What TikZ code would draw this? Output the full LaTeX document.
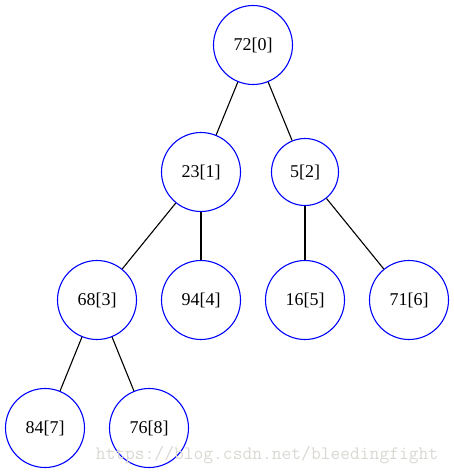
\documentclass[tikz,border=0pt]{standalone}
\usepackage{fontspec}
\setmainfont{Liberation Serif}
\definecolor{wmgray}{RGB}{218,216,210}
\begin{document}
\begin{tikzpicture}[x=1pt, y=-1pt]
\tikzset{
    % Define style for heap nodes
    knot/.style={
           circle,
           draw=blue, line width=1.1pt,
           minimum size=79pt,
           inner sep=0pt,
           font=\fontsize{18}{20}\selectfont},
    % smaller node
    smallknot/.style={knot, minimum size=67pt},
    % Define edge style
    kant/.style={
           draw=black,
           line width=1.1pt}
}
 \useasboundingbox (0,0) rectangle (454,474);
 %nodes
 \node[knot] (n0) at (253,45) {72[0]};
 \node[knot] (n1) at (201,172) {23[1]};
 \node[smallknot] (n2) at (305,172) {5[2]};
 \node[knot] (n3) at (97,300) {68[3]};
 \node[knot] (n4) at (201,300) {94[4]};
 \node[knot] (n5) at (305,300) {16[5]};
 \node[knot] (n6) at (409,300) {71[6]};
 \node[knot] (n7) at (45,428) {84[7]};
 \node[knot] (n8) at (149,428) {76[8]};
 % edges
 \draw[kant] (n0) -- (n1);
 \draw[kant] (n0) -- (n2);
 \draw[kant] (n1) -- (n3);
 \draw[kant] (n1) -- (n4);
 \draw[kant] (n2) -- (n5);
 \draw[kant] (n2) -- (n6);
 \draw[kant] (n3) -- (n7);
 \draw[kant] (n3) -- (n8);
 % watermark
 \node[text=wmgray, font=\ttfamily\fontsize{19}{20}\selectfont] (wmark) at (267,455) {https://blog.csdn.net/bleedingfight};
\end{tikzpicture}
\end{document}
